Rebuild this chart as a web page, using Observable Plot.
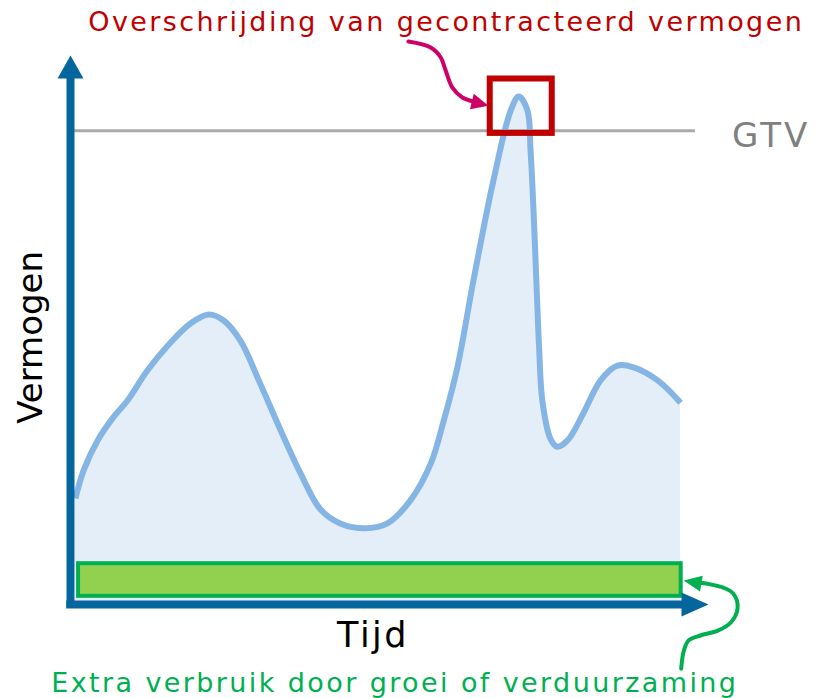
<!DOCTYPE html>
<html>
<head>
<meta charset="utf-8">
<script src="https://cdn.jsdelivr.net/npm/d3@7"></script>
<script src="https://cdn.jsdelivr.net/npm/@observablehq/plot@0.6"></script>
<style>
  body { margin: 0; background: #ffffff; }
  #chart svg { display: block; }
</style>
</head>
<body>
<div id="chart"></div>
<script>
// ---- data (time in % of period, power in % of scale) ----
const tijd = [0.8, 2.1, 4.4, 6.9, 9.2, 12.4, 15.7, 19.4, 22.3, 24.7, 27.4, 30.6, 33.9, 37.1, 40.3,
              43.5, 47.6, 51.1, 54.8, 58.1, 60.2, 62.4, 65.0, 68.2, 71.0, 72.3, 73.7, 74.2, 74.7, 75.2,
              75.6, 76.1, 77.4, 78.5, 80.2, 82.7, 85.5, 88.2, 90.8, 94.7, 98.4];
const vermogen = [19.5, 24.6, 30.2, 34.4, 37.5, 43.0, 47.6, 51.7, 53.3, 52.2, 48.5, 40.6, 32.0, 24.1, 17.5,
                  14.9, 14.0, 14.9, 19.1, 25.9, 33.8, 43.6, 59.6, 77.9, 90.8, 93.4, 90.8, 83.5, 71.9, 57.7,
                  46.7, 37.5, 30.5, 29.0, 30.2, 35.1, 41.2, 43.9, 43.6, 41.2, 37.1];
const gtv = 87.1;                       // gecontracteerd transportvermogen
const extraBand = [{x1: 1.3, x2: 98.5, y1: 1.5, y2: 7.5}];      // extra verbruik
const overschrijding = [{x1: 67.7, x2: 77.7, y1: 86.6, y2: 96.6}]; // highlighted peak
const yAxisExtent = [{x: 0, y1: -0.7, y2: 97}];
const xAxisExtent = [{y: 0, x1: -0.6, x2: 99.5}];
const yAxisTip = [{t: 0, p: 100.9}];
const xAxisTip = [{t: 102.9, p: 0}];
const pinkArrowT = [54.5, 58.1, 59.7, 60.5, 61.6, 63.2, 64.8];
const pinkArrowP = [103.5, 102.4, 100.6, 98.2, 95.0, 93.2, 92.5];
const pinkTip = [{t: 67.4, p: 91.7}];
const greenArrowT = [98.5, 98.9, 99.7, 101.6, 104.4, 106.5, 107.6, 106.9, 105.3, 103.2, 101.6];
const greenArrowP = [-11.8, -8.6, -6.6, -5.7, -4.8, -3.3, -0.6, 2.0, 3.1, 3.7, 4.0];
const greenTip = [{t: 98.9, p: 4.4}];
const titleText = ["Overschrijding van gecontracteerd vermogen"];
const gtvText = ["GTV"];
const yLabel = ["Vermogen"];
const xLabel = ["Tijd"];
const noteText = ["Extra verbruik door groei of verduurzaming"];
const titlePos = [{t: 60.6, p: 107.1}];
const gtvPos = [{t: 106.7, p: 86.1}];
const yLabelPos = [{t: -6.3, p: 49.1}];
const xLabelPos = [{t: 48.8, p: -5.8}];
const notePos = [{t: 52.3, p: -14.5}];

const curve = tijd.map((t, i) => ({t, p: vermogen[i]}));
const pinkPath = pinkArrowT.map((t, i) => ({t, p: pinkArrowP[i]}));
const greenPath = greenArrowT.map((t, i) => ({t, p: greenArrowP[i]}));

// filled arrowhead symbol with its tip at the anchor point
function arrowHead(angleDeg, len, halfW) {
  const a = angleDeg * Math.PI / 180, c = Math.cos(a), s = Math.sin(a);
  const pts = [[0, 0], [-len, -halfW], [-len, halfW]].map(([x, y]) => [x * c - y * s, x * s + y * c]);
  return {
    draw(ctx) {
      ctx.moveTo(pts[0][0], pts[0][1]);
      ctx.lineTo(pts[1][0], pts[1][1]);
      ctx.lineTo(pts[2][0], pts[2][1]);
      ctx.closePath();
    }
  };
}

const axisColor = "#05669d";
const font = "DejaVu Sans, Verdana, sans-serif";

const label = (txt, pos, opts) => Plot.text(pos, {x: "t", y: "p", text: () => txt[0], ...opts});

const chart = Plot.plot({
  width: 816,
  height: 698,
  x: {domain: [0, 100], range: [70, 690], axis: null},
  y: {domain: [0, 100], range: [604, 60], axis: null},
  style: {fontFamily: font, background: "#ffffff", overflow: "visible"},
  marks: [
    Plot.areaY(curve, {x: "t", y: "p", curve: "catmull-rom", fill: "#e4eef9"}),
    Plot.ruleY([gtv], {x1: 0, x2: 100.8, stroke: "#a9a9a9", strokeWidth: 3}),
    Plot.rect(extraBand, {x1: "x1", x2: "x2", y1: "y1", y2: "y2", fill: "#92d050", stroke: "#00b050", strokeWidth: 4}),
    Plot.line(curve, {x: "t", y: "p", curve: "catmull-rom", stroke: "#85b5e5", strokeWidth: 6, strokeLinecap: "butt"}),
    Plot.rect(overschrijding, {x1: "x1", x2: "x2", y1: "y1", y2: "y2", fill: "none", stroke: "#c00000", strokeWidth: 6}),
    Plot.ruleX(yAxisExtent, {x: "x", y1: "y1", y2: "y2", stroke: axisColor, strokeWidth: 8}),
    Plot.ruleY(xAxisExtent, {y: "y", x1: "x1", x2: "x2", stroke: axisColor, strokeWidth: 8}),
    Plot.dot(yAxisTip, {x: "t", y: "p", symbol: arrowHead(-90, 23, 13), fill: axisColor, stroke: "none"}),
    Plot.dot(xAxisTip, {x: "t", y: "p", symbol: arrowHead(0, 27, 12), fill: axisColor, stroke: "none"}),
    Plot.line(pinkPath, {x: "t", y: "p", curve: "catmull-rom", stroke: "#cc0066", strokeWidth: 4}),
    Plot.dot(pinkTip, {x: "t", y: "p", symbol: arrowHead(14, 17, 8), fill: "#cc0066", stroke: "none"}),
    Plot.line(greenPath, {x: "t", y: "p", curve: "catmull-rom", stroke: "#00b050", strokeWidth: 4}),
    Plot.dot(greenTip, {x: "t", y: "p", symbol: arrowHead(-170, 18, 8), fill: "#00b050", stroke: "none"}),
    label(titleText, titlePos, {fill: "#c00000", fontSize: 27}),
    label(gtvText, gtvPos, {fill: "#808080", fontSize: 34, textAnchor: "start"}),
    label(yLabel, yLabelPos, {fill: "#000000", fontSize: 34, rotate: -90}),
    label(xLabel, xLabelPos, {fill: "#000000", fontSize: 35}),
    label(noteText, notePos, {fill: "#00b050", fontSize: 27})
  ]
});

// letter spacing of the annotation texts
const spacing = new Map([[titleText[0], 2.4], [gtvText[0], 3], [xLabel[0], 2.5], [noteText[0], 2.4]]);
d3.select(chart).selectAll("text").each(function () {
  const v = spacing.get(this.textContent);
  if (v != null) this.setAttribute("letter-spacing", v);
});
document.getElementById("chart").appendChild(chart);
</script>
</body>
</html>
